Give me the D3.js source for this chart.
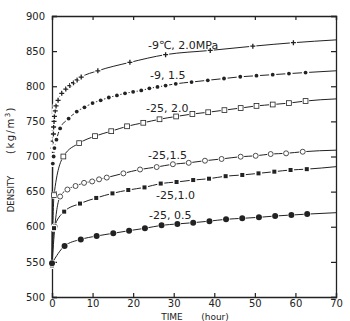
<!DOCTYPE html>
<html>
<head>
<meta charset="utf-8">
<script src="https://cdn.jsdelivr.net/npm/d3@7"></script>
<style>
  body { margin: 0; background: #fff; }
  svg text { font-family: "DejaVu Sans", sans-serif; fill: #222; }
</style>
</head>
<body>
<svg width="350" height="321"></svg>
<script>
// data (time in hours, density in kg/m3)
const xTicks = [0, 10, 20, 30, 40, 50, 60, 70];
const yTicks = [500, 550, 600, 650, 700, 750, 800, 850, 900];

const labels = ["-9℃, 2.0MPa", "-9, 1.5", "-25, 2.0", "-25,1.5", "-25,1.0", "-25, 0.5"];
const markers = ["plus", "dot", "openSquare", "openCircle", "square", "bigDot"];

const timeA = [0, 0.15, 0.25, 0.3, 0.35, 0.4, 0.5, 0.6, 0.8, 1.0, 1.5, 2.4, 3.4, 4.4, 5.3, 6.2, 7.2, 11.3, 19.2, 28, 39, 49.5, 59.5];
const densA = [545, 700, 712, 722, 732, 742, 750, 757, 765, 772, 780, 790, 796, 801, 805, 809, 813, 822, 834, 845, 851, 857, 862];

const timeB = [0, 0.2, 0.4, 0.6, 1.1, 2, 4.1, 6.1, 8, 10, 12, 14, 16, 18, 20, 22, 24, 26, 28, 30.5, 34.4, 38.4, 42.4, 46.4, 50.4, 54.4, 58.4, 62.5];
const densB = [545, 690, 700, 712, 724, 740, 754, 764, 770, 776, 780, 784, 787, 790, 792, 794, 797, 799, 801, 803.5, 806, 808.5, 811, 813.5, 815, 816.5, 818, 819.5];

const timeC = [0, 0.5, 2.8, 6.7, 10.6, 14.6, 18.5, 22.5, 26.5, 30.6, 34.6, 38.5, 42.5, 46.5, 50.4, 54.4, 58.4, 62.5];
const densC = [545, 645, 700, 719, 729, 736, 743, 748, 753, 757, 760.5, 763, 766, 769, 772, 774, 776, 779];

const timeD = [0, 0.7, 2, 3.8, 5.8, 7.9, 9.9, 11.6, 13.5, 17.6, 21.7, 25.8, 29.8, 33.7, 37.7, 41.8, 46.5, 50.2, 53.9, 57.7, 61.8];
const densD = [545, 600, 643, 653, 658, 662.5, 664.5, 667.5, 670, 676, 681.5, 685, 689, 691, 694, 696.5, 699.7, 701, 703.5, 704.5, 706.8];

const timeE = [0, 0.5, 3, 6.9, 10.9, 14.9, 18.8, 22.8, 26.8, 30.7, 34.8, 38.7, 42.8, 46.9, 50.9, 54.8, 58.8, 62.8];
const densE = [545, 598, 621.5, 633, 641, 647.5, 652.3, 656, 661.5, 663.7, 666.5, 668.4, 672, 673.7, 676, 678.4, 680.8, 682];

const timeF = [0, 3.1, 7.1, 11, 15.1, 19, 22.9, 27, 30.9, 34.8, 38.8, 42.9, 46.9, 51, 55, 59, 62.9];
const densF = [548, 572.6, 582, 586.8, 590.7, 594.4, 597.8, 602, 604, 605.8, 608, 610.6, 612, 613.4, 615.3, 616.7, 618];

// where each curve leaves the frame at t = 70 (no marker there)
const endDens = [866, 822, 782, 709, 685.5, 620];

const times = [timeA, timeB, timeC, timeD, timeE, timeF];
const dens = [densA, densB, densC, densD, densE, densF];

const width = 350;
const height = 321;
const margin = { top: 16, right: 14, bottom: 24, left: 52 };

const svg = d3.select("svg");

const xScale = d3.scaleLinear().domain([0, 70]).range([margin.left, width - margin.right]);
const yScale = d3.scaleLinear().domain([500, 900]).range([height - margin.bottom, margin.top]);

// frame + inward ticks on all four sides
const ink = "#222";
svg.append("g")
  .attr("transform", `translate(0, ${height - margin.bottom})`)
  .call(d3.axisBottom(xScale).tickValues(xTicks).tickSize(-4).tickPadding(3).tickFormat(d3.format("d")));
svg.append("g")
  .attr("transform", `translate(${margin.left}, 0)`)
  .call(d3.axisLeft(yScale).tickValues(yTicks).tickSize(-5).tickPadding(7).tickFormat(d3.format("d")));
svg.append("g")
  .attr("transform", `translate(0, ${margin.top})`)
  .call(d3.axisTop(xScale).tickValues(xTicks).tickSize(-4).tickFormat(""));
svg.append("g")
  .attr("transform", `translate(${width - margin.right}, 0)`)
  .call(d3.axisRight(yScale).tickValues(yTicks).tickSize(-5).tickFormat(""));

svg.selectAll(".domain").attr("stroke", ink).attr("stroke-width", 1.3);
svg.selectAll(".tick line").attr("stroke", ink).attr("stroke-width", 1.2);
svg.selectAll(".tick text").attr("font-size", 10).attr("font-family", "DejaVu Sans").attr("fill", ink);

// axis titles
svg.append("text")
  .attr("transform", `translate(14, 194) rotate(-90)`)
  .attr("text-anchor", "middle")
  .attr("font-size", 8.5)
  .text("DENSITY");
svg.append("text")
  .attr("transform", `translate(14, 130) rotate(-90)`)
  .attr("text-anchor", "middle")
  .attr("font-size", 10)
  .attr("letter-spacing", 1.5)
  .html("(kg/m<tspan dy='-4' font-size='7'>3</tspan><tspan dy='4'>)</tspan>");
svg.append("text")
  .attr("x", 172).attr("y", 320)
  .attr("text-anchor", "middle")
  .attr("font-size", 9)
  .text("TIME");
svg.append("text")
  .attr("x", 215).attr("y", 320)
  .attr("text-anchor", "middle")
  .attr("font-size", 9)
  .text("(hour)");

// curves
const line = d3.line()
  .x(d => xScale(d[0]))
  .y(d => yScale(d[1]))
  .curve(d3.curveMonotoneX);

times.forEach((ts, i) => {
  const pts = ts.map((t, j) => [t, dens[i][j]]);
  pts.push([70, endDens[i]]);
  svg.append("path")
    .attr("d", line(pts))
    .attr("fill", "none")
    .attr("stroke", ink)
    .attr("stroke-width", 1);
});

// markers
function drawMarker(g, type, x, y) {
  // white knock-out so the line shows a gap round each marker
  g.append("circle").attr("cx", x).attr("cy", y).attr("r", 3.6).attr("fill", "#fff");
  if (type === "plus") {
    g.append("path")
      .attr("d", `M${x - 2.5},${y}H${x + 2.5}M${x},${y - 2.5}V${y + 2.5}`)
      .attr("stroke", ink).attr("stroke-width", 1.3);
  } else if (type === "dot") {
    g.append("circle").attr("cx", x).attr("cy", y).attr("r", 1.9).attr("fill", ink);
  } else if (type === "openSquare") {
    g.append("rect").attr("x", x - 2.4).attr("y", y - 2.4).attr("width", 4.8).attr("height", 4.8)
      .attr("fill", "#fff").attr("stroke", ink).attr("stroke-width", 0.8);
  } else if (type === "openCircle") {
    g.append("circle").attr("cx", x).attr("cy", y).attr("r", 2.5)
      .attr("fill", "#fff").attr("stroke", ink).attr("stroke-width", 0.8);
  } else if (type === "square") {
    g.append("rect").attr("x", x - 2).attr("y", y - 2).attr("width", 4).attr("height", 4).attr("fill", ink);
  } else if (type === "bigDot") {
    g.append("circle").attr("cx", x).attr("cy", y).attr("r", 3).attr("fill", ink);
  }
}

times.forEach((ts, i) => {
  const g = svg.append("g");
  ts.forEach((t, j) => drawMarker(g, markers[i], xScale(t), yScale(dens[i][j])));
});

// curve labels
const labelX = [148, 150, 146, 148, 156, 149];
const labelY = [49, 79, 112, 159, 199, 219];
labels.forEach((s, i) => {
  svg.append("text")
    .attr("x", labelX[i]).attr("y", labelY[i])
    .attr("font-size", 11)
    .text(s);
});
</script>
</body>
</html>
